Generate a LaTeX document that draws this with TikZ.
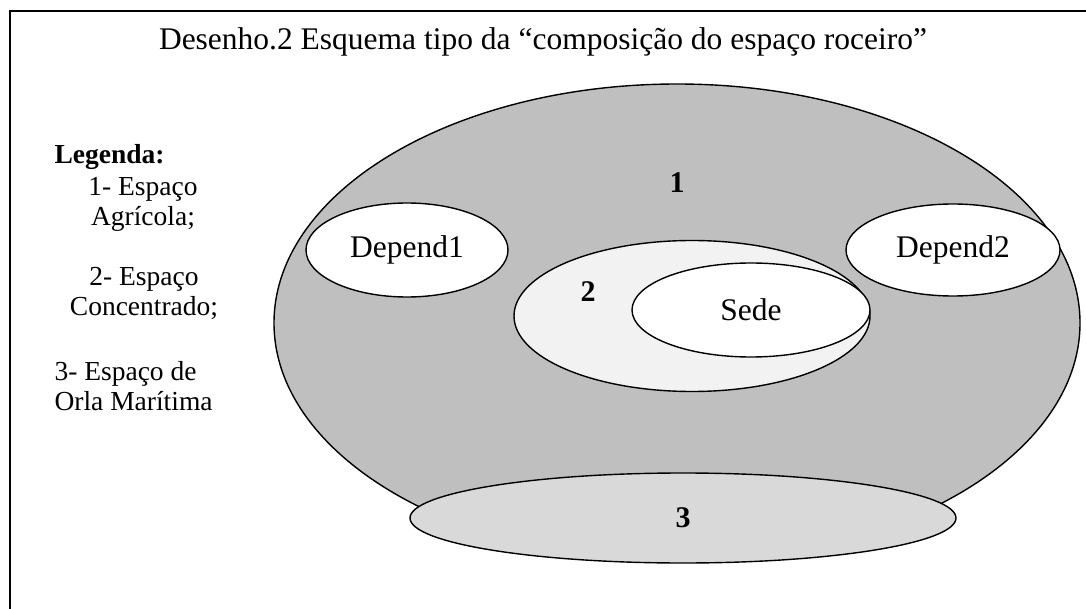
\documentclass[tikz,border=0pt]{standalone}
\usepackage{fontspec}
\setmainfont{Liberation Serif}
\usetikzlibrary{shapes.geometric}
\definecolor{agrgray}{HTML}{BFBFBF}
\definecolor{concgray}{HTML}{F2F2F2}
\definecolor{orlagray}{HTML}{D9D9D9}

\begin{document}
\begin{tikzpicture}
    [
      x=1pt, y=-1pt,
      zona/.style = {ellipse, draw, line width=1.4pt, inner sep=0pt},
      txt/.style = {font=\fontsize{31.5}{36}\selectfont},
      legtxt/.style = {font=\fontsize{27.5}{30}\selectfont},
      num/.style = {font=\fontsize{30}{34}\selectfont\bfseries}
    ]
    \useasboundingbox (0,0) rectangle (1086,609);
    \coordinate (topright) at (1086,11);
    \coordinate (corner) at (10,11);
    \coordinate (botleft) at (10,609);
    \draw [line width=1.6pt] (topright) -- (corner) -- (botleft);

    \node [txt] (titulo) at (543,42) {Desenho.2 Esquema tipo da “composição do espaço roceiro”};

    \node [legtxt, font=\fontsize{27.5}{30}\selectfont\bfseries, anchor=west] (legenda) at (51,157) {Legenda:};
    \node [legtxt, align=center] (leg1) at (143,204) {1- Espaço\\Agrícola;};
    \node [legtxt, align=center] (leg2) at (144,294) {2- Espaço\\Concentrado;};
    \node [legtxt, align=left, anchor=west] (leg3) at (51,386) {3- Espaço de\\Orla Marítima};

    \node [zona, fill=agrgray, minimum width=806, minimum height=478] (agricola) at (677,323) {};
    \node [num] (n1) at (677,183) {1};
    \node [zona, fill=white, minimum width=202, minimum height=94, txt] (depend1) at (407,250) {Depend1};
    \node [zona, fill=white, minimum width=214, minimum height=92, txt] (depend2) at (953,250) {Depend2};
    \node [zona, fill=concgray, minimum width=356, minimum height=151] (concentrado) at (692,316) {};
    \node [num] (n2) at (588,292) {2};
    \node [zona, fill=white, minimum width=238, minimum height=94, txt] (sede) at (751,310) {Sede};
    \node [zona, fill=orlagray, minimum width=546, minimum height=90, num] (orla) at (683,518) {3};
\end{tikzpicture}
\end{document}
